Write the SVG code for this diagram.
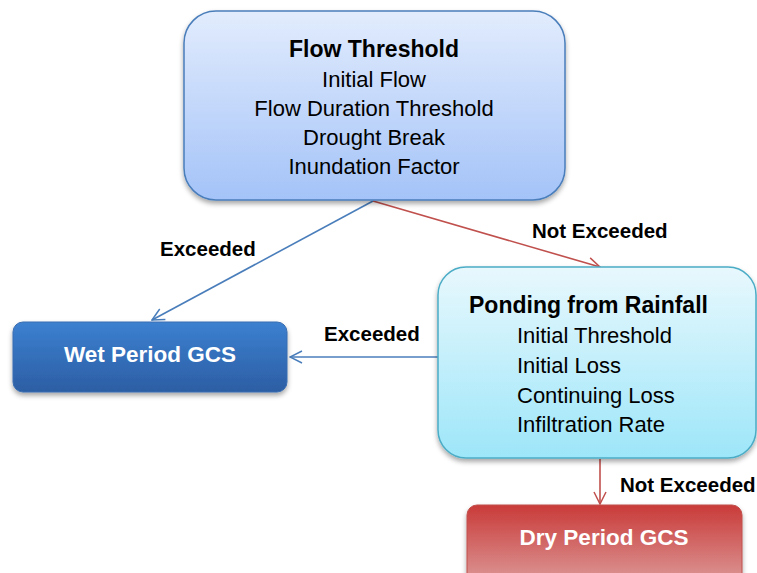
<svg xmlns="http://www.w3.org/2000/svg" width="757" height="573" viewBox="0 0 757 573">
<defs>
<linearGradient id="gFlow" x1="0" y1="0" x2="0" y2="1"><stop offset="0" stop-color="#e2ecfd"/><stop offset="1" stop-color="#a4c3f8"/></linearGradient>
<linearGradient id="gWet" x1="0" y1="0" x2="0" y2="1"><stop offset="0" stop-color="#3c80d0"/><stop offset="1" stop-color="#2c5ea4"/></linearGradient>
<linearGradient id="gPond" x1="0" y1="0" x2="0" y2="1"><stop offset="0" stop-color="#e8f8fd"/><stop offset="1" stop-color="#9de6f9"/></linearGradient>
<linearGradient id="gDry" x1="0" y1="0" x2="0" y2="1"><stop offset="0" stop-color="#c93b39"/><stop offset="1" stop-color="#dc9a99"/></linearGradient>
<filter id="sh" x="-10%" y="-10%" width="120%" height="130%"><feDropShadow dx="0" dy="3" stdDeviation="2.5" flood-color="#000" flood-opacity="0.35"/></filter>
<marker id="aBlue" viewBox="0 0 14 14" refX="13" refY="7" markerWidth="14" markerHeight="14" markerUnits="userSpaceOnUse" orient="auto"><path d="M1,1 L13,7 L1,13" fill="none" stroke="#4a7ebb" stroke-width="1.5"/></marker>
<marker id="aRed" viewBox="0 0 14 14" refX="13" refY="7" markerWidth="14" markerHeight="14" markerUnits="userSpaceOnUse" orient="auto"><path d="M1,1 L13,7 L1,13" fill="none" stroke="#c0504d" stroke-width="1.5"/></marker>
</defs>
<style>
text{font-family:"Liberation Sans",Arial,sans-serif;}
.t{font-size:22px;fill:#000;}
.h{font-size:23px;font-weight:bold;fill:#000;}
.w{font-size:22.5px;font-weight:bold;fill:#fff;}
.l{font-size:20.5px;font-weight:bold;fill:#000;}
.cb{fill:none;stroke:#4a7ebb;stroke-width:1.6;}
.cr{fill:none;stroke:#c0504d;stroke-width:1.6;}
</style>
<g id="connectors">
<line class="cb" x1="373" y1="201" x2="152" y2="320" marker-end="url(#aBlue)"/>
<line class="cr" x1="373" y1="201" x2="600" y2="267" marker-end="url(#aRed)"/>
<line class="cb" x1="438" y1="357" x2="290" y2="357" marker-end="url(#aBlue)"/>
<line class="cr" x1="600" y1="459" x2="600" y2="504" marker-end="url(#aRed)"/>
<text class="l" x="160" y="256">Exceeded</text>
<text class="l" x="532" y="238">Not Exceeded</text>
<text class="l" x="324" y="341">Exceeded</text>
<text class="l" x="620" y="492">Not Exceeded</text>
</g>
<g id="flowThreshold">
<rect x="184" y="11" width="381" height="189" rx="32" fill="url(#gFlow)" stroke="#4a7ebb" stroke-width="1.5" filter="url(#sh)"/>
<text class="h" x="374" y="57" text-anchor="middle">Flow Threshold</text>
<text class="t" x="374" y="87" text-anchor="middle">Initial Flow</text>
<text class="t" x="374" y="116" text-anchor="middle">Flow Duration Threshold</text>
<text class="t" x="374" y="145" text-anchor="middle">Drought Break</text>
<text class="t" x="374" y="174" text-anchor="middle">Inundation Factor</text>
</g>
<g id="wetPeriod">
<rect x="13" y="322" width="274" height="70" rx="10" fill="url(#gWet)" stroke="#3a6db0" stroke-width="1" filter="url(#sh)"/>
<text class="w" x="150" y="362" text-anchor="middle">Wet Period GCS</text>
</g>
<g id="ponding">
<rect x="438" y="267" width="318" height="191" rx="28" fill="url(#gPond)" stroke="#4bacc6" stroke-width="1.5" filter="url(#sh)"/>
<text class="h" x="469" y="313">Ponding from Rainfall</text>
<text class="t" x="517" y="343">Initial Threshold</text>
<text class="t" x="517" y="373">Initial Loss</text>
<text class="t" x="517" y="403">Continuing Loss</text>
<text class="t" x="517" y="432">Infiltration Rate</text>
</g>
<g id="dryPeriod">
<rect x="467" y="505" width="275" height="80" rx="10" fill="url(#gDry)" stroke="#c0504d" stroke-width="1" filter="url(#sh)"/>
<text class="w" x="604" y="545" text-anchor="middle">Dry Period GCS</text>
</g>
</svg>
